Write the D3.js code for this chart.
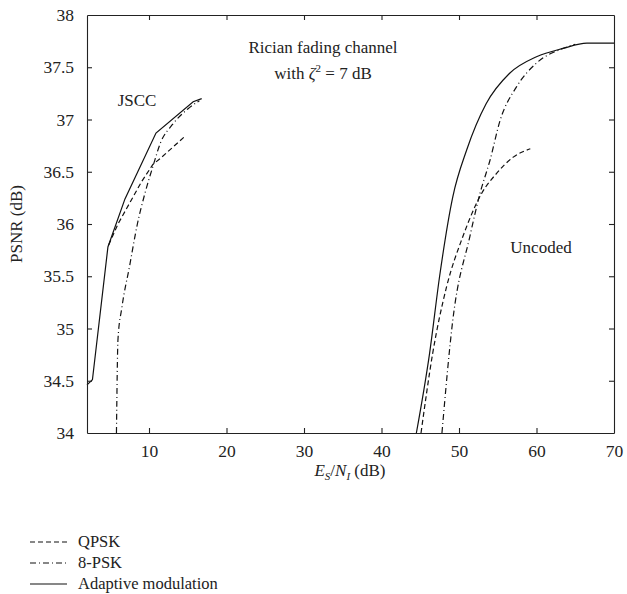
<!DOCTYPE html>
<html>
<head>
<meta charset="utf-8">
<script src="https://cdn.jsdelivr.net/npm/d3@7"></script>
<style>
body { margin: 0; background: #fff; }
svg text { font-family: "Liberation Serif", "DejaVu Serif", serif !important; fill: #222; }
</style>
</head>
<body>
<script>
// JSCC curves [Es/NI, PSNR]
var jsccQpsk = [[4.8,35.8],[6,36.0],[7.5,36.2],[9,36.4],[10.5,36.57],[11.5,36.63],[13,36.73],[14.5,36.83]];
var jscc8psk = [[5.8,34],[6.0,34.9],[6.5,35.2],[7.5,35.6],[8.5,36.0],[9.5,36.3],[10.5,36.55],[11.5,36.78],[13,36.95],[15,37.1],[16.5,37.18]];
var jsccAdaptive = [[2,34.46],[2.7,34.51],[4.7,35.78],[6.9,36.24],[10.9,36.87],[15.7,37.17],[16.8,37.2]];
// Uncoded curves
var uncQpsk = [[45.1,34],[46.6,34.76],[48.4,35.4],[50.5,35.88],[52.9,36.29],[54.8,36.48],[57,36.64],[59.2,36.72]];
var unc8psk = [[47.8,34],[49.2,35.08],[51.4,35.88],[52.7,36.29],[54,36.61],[55.3,36.99],[57.4,37.31],[60,37.54],[63.4,37.68],[65,37.72]];
var uncAdaptive = [[44.5,34],[46.2,34.76],[47.5,35.5],[49.2,36.26],[51,36.71],[53.5,37.15],[56.5,37.44],[60,37.6],[63.4,37.68],[66.5,37.73],[70,37.73]];

var xTicks = [10, 20, 30, 40, 50, 60, 70];
var yTicks = [34, 34.5, 35, 35.5, 36, 36.5, 37, 37.5, 38];
var legendNames = ["QPSK", "8-PSK", "Adaptive modulation"];
var dashes = ["5,3", "6,3,1,3", null];

var width = 627, height = 594;
var mLeft = 87, mRight = 614, mTop = 15, mBottom = 433;

var x = d3.scaleLinear().domain([2, 70]).range([mLeft, mRight]);
var y = d3.scaleLinear().domain([34, 38]).range([mBottom, mTop]);

var svg = d3.select("body").append("svg")
	.attr("width", width)
	.attr("height", height);

var plot = svg.append("g");

// axes, ticks pointing inward
var ax = svg.append("g").attr("transform", "translate(0," + mBottom + ")")
	.call(d3.axisBottom(x).tickValues(xTicks).tickSizeInner(-5).tickSizeOuter(0).tickPadding(12));
var axTop = svg.append("g").attr("transform", "translate(0," + mTop + ")")
	.call(d3.axisTop(x).tickValues(xTicks).tickSizeInner(-5).tickSizeOuter(0).tickFormat(""));
var ay = svg.append("g").attr("transform", "translate(" + mLeft + ",0)")
	.call(d3.axisLeft(y).tickValues(yTicks).tickSizeInner(-5).tickSizeOuter(0).tickPadding(13).tickFormat(d3.format("")));
var ayR = svg.append("g").attr("transform", "translate(" + mRight + ",0)")
	.call(d3.axisRight(y).tickValues(yTicks).tickSizeInner(-5).tickSizeOuter(0).tickFormat(""));

[ax, axTop, ay, ayR].forEach(function(g) {
	g.attr("font-family", null).attr("font-size", null);
	g.selectAll("path, line").attr("stroke", "#222").attr("stroke-width", 1.1);
	g.selectAll("text").style("font-size", "17.5px");
});
// hide ticks sitting on the box corners
ay.selectAll(".tick").filter(function(d) { return d === 34 || d === 38; }).select("line").remove();
ayR.selectAll(".tick").filter(function(d) { return d === 34 || d === 38; }).select("line").remove();
ax.selectAll(".tick").filter(function(d) { return d === 70; }).select("line").remove();
axTop.selectAll(".tick").filter(function(d) { return d === 70; }).select("line").remove();

var line = d3.line().x(function(d) { return x(d[0]); }).y(function(d) { return y(d[1]); });
var smooth = d3.line().x(function(d) { return x(d[0]); }).y(function(d) { return y(d[1]); }).curve(d3.curveMonotoneX);

var series = [
	{ data: jsccQpsk, dash: dashes[0], gen: line },
	{ data: jscc8psk, dash: dashes[1], gen: smooth },
	{ data: jsccAdaptive, dash: dashes[2], gen: line },
	{ data: uncQpsk, dash: dashes[0], gen: smooth },
	{ data: unc8psk, dash: dashes[1], gen: smooth },
	{ data: uncAdaptive, dash: dashes[2], gen: smooth }
];

plot.selectAll("path.curve")
	.data(series)
	.enter().append("path")
		.attr("class", "curve")
		.attr("d", function(s) { return s.gen(s.data); })
		.attr("fill", "none")
		.attr("stroke", "#111")
		.attr("stroke-width", 1.2)
		.attr("stroke-dasharray", function(s) { return s.dash; });

// annotations
var ann = svg.append("g").attr("font-size", 17).attr("text-anchor", "middle");
ann.append("text").attr("x", 323).attr("y", 53).text("Rician fading channel");
var t2 = ann.append("text").attr("x", 323).attr("y", 79);
t2.append("tspan").text("with ");
t2.append("tspan").attr("font-style", "italic").text("ζ");
t2.append("tspan").attr("font-size", 11).attr("dy", -7).text("2");
t2.append("tspan").attr("dy", 7).text(" = 7 dB");
ann.append("text").attr("x", 137).attr("y", 106).text("JSCC");
ann.append("text").attr("x", 541).attr("y", 253).text("Uncoded");

// axis titles
svg.append("text")
	.attr("transform", "translate(22," + ((mTop + mBottom) / 2) + ") rotate(-90)")
	.attr("text-anchor", "middle").attr("font-size", 17)
	.text("PSNR (dB)");
var xl = svg.append("text").attr("x", 350).attr("y", 476)
	.attr("text-anchor", "middle").attr("font-size", 17);
xl.append("tspan").attr("font-style", "italic").text("E");
xl.append("tspan").attr("font-style", "italic").attr("font-size", 11).attr("dy", 4).text("S");
xl.append("tspan").attr("dy", -4).text("/");
xl.append("tspan").attr("font-style", "italic").text("N");
xl.append("tspan").attr("font-style", "italic").attr("font-size", 11).attr("dy", 4).text("I");
xl.append("tspan").attr("dy", -4).text(" (dB)");

// legend
var leg = svg.append("g").selectAll("g")
	.data(legendNames)
	.enter().append("g")
		.attr("transform", function(d, i) { return "translate(30," + (542 + i * 21) + ")"; });
leg.append("line")
	.attr("x1", 0).attr("x2", 37).attr("y1", 0).attr("y2", 0)
	.attr("stroke", "#111").attr("stroke-width", 1.2)
	.attr("stroke-dasharray", function(d, i) { return dashes[i]; });
leg.append("text")
	.attr("x", 48).attr("y", 5)
	.attr("font-size", 16.5)
	.text(function(d) { return d; });
</script>
</body>
</html>
